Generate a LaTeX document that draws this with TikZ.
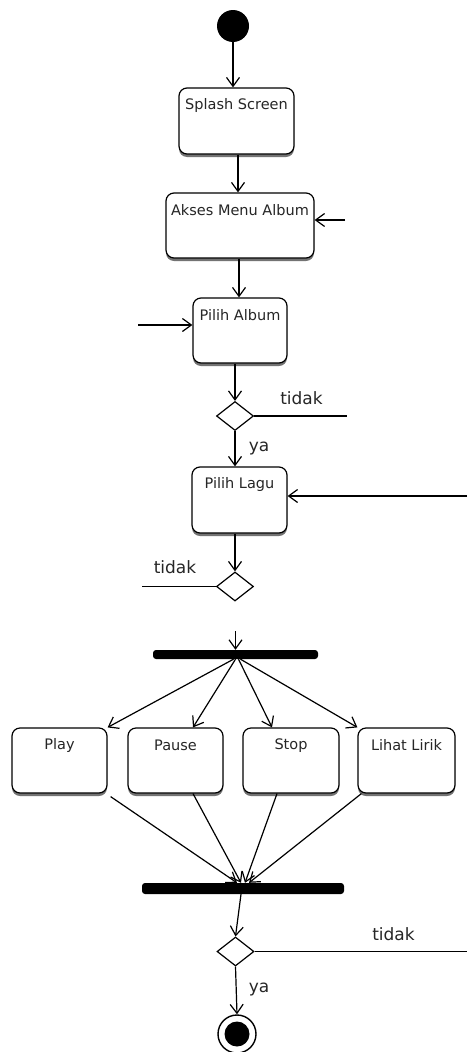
\documentclass[tikz,border=0pt]{standalone}
\usepackage{fontspec}
\setmainfont{DejaVu Sans}
\usetikzlibrary{arrows.meta,shapes.geometric,shadows,calc}
\begin{document}
\begin{tikzpicture}[x=1pt,y=-1pt,
  arr/.style={draw=black, line width=1.2pt, -{Straight Barb[length=9pt,width=13pt,line width=1.2pt]}},
  plain/.style={draw=black, line width=1.2pt},
  act/.style={draw, line width=1.2pt, rounded corners=8pt, fill=white, inner sep=0pt,
    drop shadow={shadow xshift=0pt,shadow yshift=-3pt,fill=black!55,opacity=1}},
  lbl/.style={anchor=center, yshift=-18pt, font=\fontsize{14.5}{17}\selectfont, text=black!85},
  dia/.style={draw, diamond, line width=1.2pt, fill=white, inner sep=0pt, minimum width=37pt, minimum height=29pt},
  bar/.style={fill=black, rounded corners=3pt, inner sep=0pt},
  cond/.style={font=\fontsize{17}{19}\selectfont, text=black!85, inner sep=0pt}
]
\useasboundingbox (0,0) rectangle (467,1052);

% nodes
\node[circle, fill=black, minimum size=32pt, inner sep=0pt] (start) at (233,26) {};
\node[act, minimum width=115pt, minimum height=66pt, label={[lbl]north:Splash Screen}] (splash) at (236.5,121) {};
\node[act, minimum width=148pt, minimum height=65pt, label={[lbl]north:Akses Menu Album}] (akses) at (240,225.5) {};
\node[act, minimum width=94pt, minimum height=65pt, label={[lbl]north:Pilih Album}] (palbum) at (240,330.5) {};
\node[dia] (d1) at (235,416) {};
\node[act, minimum width=95pt, minimum height=66pt, label={[lbl]north:Pilih Lagu}] (plagu) at (239.5,500) {};
\node[dia] (d2) at (235,586.5) {};
\node[bar, minimum width=165pt, minimum height=9pt] (fork) at (235.5,654.5) {};
\node[act, minimum width=95pt, minimum height=65pt, label={[lbl]north:Play}] (play) at (59.5,760.5) {};
\node[act, minimum width=95pt, minimum height=65pt, label={[lbl]north:Pause}] (pause) at (175.5,760.5) {};
\node[act, minimum width=96pt, minimum height=65pt, label={[lbl]north:Stop}] (stop) at (291,760.5) {};
\node[act, minimum width=97pt, minimum height=65pt, label={[lbl]north:Lihat Lirik}] (lihat) at (406.5,760.5) {};
\node[bar, minimum width=202pt, minimum height=11pt] (join) at (243,888.5) {};
\node[dia] (d3) at (235.5,951.5) {};
\node[circle, draw, line width=1.4pt, fill=white, minimum size=38pt, inner sep=0pt] (end) at (237,1034) {};
\node[circle, fill=black, minimum size=25pt, inner sep=0pt] (endin) at (237,1034) {};

% labels
\node[cond] (lt1) at (301.5,398.5) {tidak};
\node[cond] (ly1) at (259,449) {ya};
\node[cond] (lt2) at (175,567.5) {tidak};
\node[cond] (lt3) at (393.5,934) {tidak};
\node[cond] (ly2) at (259,989) {ya};

% free ends
\coordinate (inA) at (345,220);
\coordinate (inB) at (138,325);
\coordinate (inC) at (467,496);
\coordinate (t1) at (347,416);
\coordinate (t2) at (142,586.5);
\coordinate (t3) at (467,951.5);
\coordinate (fin) at (235.5,631);

% connectors
\draw[arr] (start) -- (start |- splash.north);
\draw[arr] ([xshift=1.5pt]splash.south) -- ([xshift=1.5pt]splash.south |- akses.north);
\draw[arr] ([xshift=-1pt]akses.south) -- ([xshift=-1pt]akses.south |- palbum.north);
\draw[arr] (inA) -- (inA -| akses.east);
\draw[arr] (inB) -- (inB -| palbum.west);
\draw[arr] (d1 |- palbum.south) -- (d1.north);
\draw[plain] (d1.east) -- (t1);
\draw[arr] (d1.south) -- (d1 |- plagu.north);
\draw[arr] (inC) -- (inC -| plagu.east);
\draw[arr] (d2 |- plagu.south) -- (d2.north);
\draw[plain] (d2.west) -- (t2);
\draw[arr] (fin) -- (fin |- fork.north);
\draw[arr] ([xshift=-2pt]fork.south) -- (play.north east);
\draw[arr] ([xshift=0pt]fork.south) -- ([xshift=17.5pt]pause.north);
\draw[arr] ([xshift=3pt]fork.south) -- ([xshift=-19pt]stop.north);
\draw[arr] ([xshift=5pt]fork.south) -- (lihat.north west);
\draw[arr] ([xshift=3pt,yshift=-3pt]play.south east) -- ([xshift=-6pt]join.north);
\draw[arr] ([xshift=17.5pt]pause.south) -- ([xshift=-2pt]join.north);
\draw[arr] ([xshift=-14pt]stop.south) -- ([xshift=2pt]join.north);
\draw[arr] ([xshift=4pt]lihat.south west) -- ([xshift=6pt]join.north);
\draw[arr] ([xshift=-2pt]join.south) -- (d3.north);
\draw[plain] (d3.east) -- (t3);
\draw[arr] (d3.south) -- (end.north);
\end{tikzpicture}
\end{document}
